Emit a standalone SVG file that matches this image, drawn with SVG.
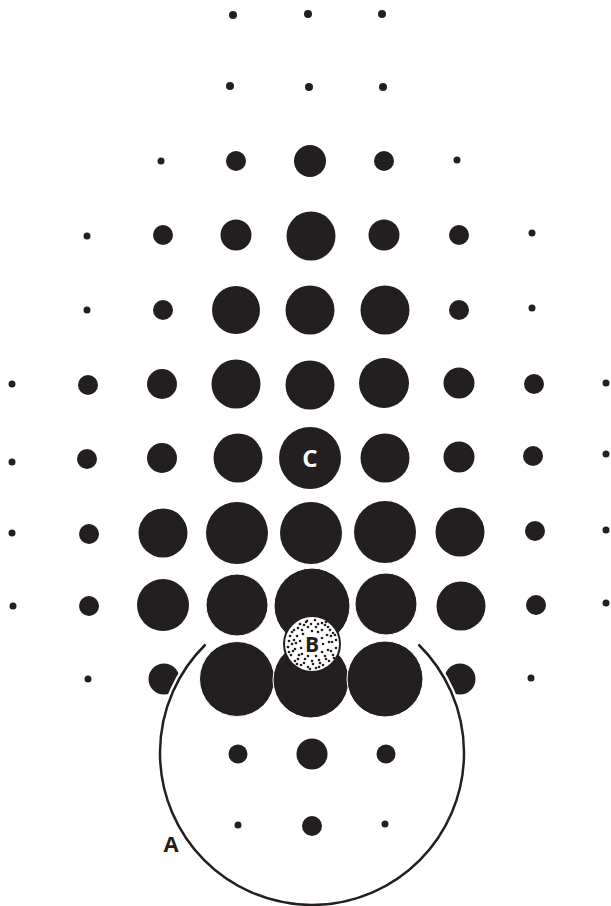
<svg xmlns="http://www.w3.org/2000/svg" width="611" height="906" viewBox="0 0 611 906">
<style>
.d{fill:#231f20}
.big{fill:#231f20;stroke:#fff;stroke-width:1}
.lbl{font-family:"Open Sans","Liberation Sans",sans-serif;font-weight:700;text-anchor:middle}
.s{fill:#231f20}
</style>
<rect width="611" height="906" fill="#fff"/>
<g id="row1">
<circle class="d" cx="233" cy="15" r="4"/><circle class="d" cx="308" cy="14" r="4"/><circle class="d" cx="382" cy="14" r="4"/>
</g>
<g id="row2">
<circle class="d" cx="230" cy="86" r="4"/><circle class="d" cx="309" cy="87" r="4"/><circle class="d" cx="383" cy="87" r="4"/>
</g>
<g id="row3">
<circle class="d" cx="161" cy="161" r="3.5"/><circle class="d" cx="236" cy="161" r="10"/><circle class="d" cx="310" cy="161" r="16"/><circle class="d" cx="384" cy="161" r="10"/><circle class="d" cx="457" cy="160" r="3.5"/>
</g>
<g id="row4">
<circle class="d" cx="87" cy="236" r="3.5"/><circle class="d" cx="163" cy="235" r="10"/><circle class="d" cx="236" cy="235" r="15.5"/><circle class="d" cx="311" cy="236" r="24.5"/><circle class="d" cx="384" cy="235" r="15.5"/><circle class="d" cx="459" cy="235" r="10"/><circle class="d" cx="532" cy="233" r="3.5"/>
</g>
<g id="row5">
<circle class="d" cx="87" cy="310" r="3.5"/><circle class="d" cx="163" cy="310" r="10"/><circle class="d" cx="236" cy="310" r="24"/><circle class="d" cx="310" cy="310" r="24.5"/><circle class="d" cx="385" cy="310" r="24.5"/><circle class="d" cx="459" cy="310" r="10"/><circle class="d" cx="532" cy="308" r="3.5"/>
</g>
<g id="row6">
<circle class="d" cx="12" cy="384" r="3.5"/><circle class="d" cx="88" cy="385" r="10"/><circle class="d" cx="162" cy="384" r="15"/><circle class="d" cx="236" cy="384" r="24.5"/><circle class="d" cx="310" cy="385" r="24.5"/><circle class="d" cx="384" cy="383" r="25"/><circle class="d" cx="459" cy="383" r="15.5"/><circle class="d" cx="534" cy="384" r="10"/><circle class="d" cx="606" cy="383" r="3.5"/>
</g>
<g id="row7">
<circle class="d" cx="12" cy="462" r="3.5"/><circle class="d" cx="87" cy="459" r="10"/><circle class="d" cx="162" cy="458" r="15"/><circle class="d" cx="238" cy="458" r="24.5"/><circle class="d" cx="385" cy="458" r="24.5"/><circle class="d" cx="459" cy="457" r="15.5"/><circle class="d" cx="533" cy="456" r="10"/><circle class="d" cx="606" cy="454" r="3.5"/>
</g>
<g id="node-C">
<circle class="d" cx="310" cy="458" r="31"/>
<text class="lbl" x="310" y="467" font-size="24" fill="#fff">C</text>
</g>
<g id="row8">
<circle class="d" cx="12" cy="533" r="3.5"/><circle class="d" cx="89" cy="534" r="10"/><circle class="d" cx="163" cy="533" r="24.5"/><circle class="d" cx="237" cy="533" r="31"/><circle class="d" cx="311" cy="533" r="31"/><circle class="d" cx="385" cy="532" r="31"/><circle class="d" cx="460" cy="532" r="24.5"/><circle class="d" cx="535" cy="531" r="10"/><circle class="d" cx="606" cy="530" r="3.5"/>
</g>
<g id="row9">
<circle class="d" cx="13" cy="606" r="3.5"/><circle class="d" cx="89" cy="606" r="10"/><circle class="d" cx="163" cy="605" r="26"/><circle class="big" cx="237" cy="605" r="31"/><circle class="big" cx="312" cy="606" r="38"/><circle class="big" cx="386" cy="604" r="31"/><circle class="d" cx="461" cy="606" r="24.5"/><circle class="d" cx="536" cy="605" r="10"/><circle class="d" cx="606" cy="603" r="3.5"/>
</g>
<g id="row10">
<circle class="d" cx="88" cy="679" r="3.5"/><circle class="d" cx="164" cy="679" r="15.5"/><circle class="big" cx="237" cy="679" r="37.5"/><circle class="big" cx="311" cy="680" r="38"/><circle class="big" cx="385" cy="679" r="38"/><circle class="d" cx="460" cy="679" r="15.5"/><circle class="d" cx="531" cy="678" r="3.5"/>
</g>
<g id="node-B">
<circle cx="312" cy="644" r="28" fill="#fff" stroke="#231f20" stroke-width="2"/>
<g class="s" transform="translate(312 644)">
<circle cx="-22" cy="-8" r="1.3"/><circle cx="-18" cy="-14" r="1.3"/><circle cx="-12" cy="-20" r="1.3"/><circle cx="-5" cy="-23" r="1.3"/><circle cx="3" cy="-24" r="1.3"/><circle cx="10" cy="-21" r="1.3"/><circle cx="16" cy="-17" r="1.3"/><circle cx="21" cy="-11" r="1.3"/><circle cx="24" cy="-4" r="1.3"/><circle cx="24" cy="4" r="1.3"/><circle cx="21" cy="11" r="1.3"/><circle cx="17" cy="17" r="1.3"/><circle cx="11" cy="21" r="1.3"/><circle cx="4" cy="24" r="1.3"/><circle cx="-4" cy="23" r="1.3"/><circle cx="-11" cy="21" r="1.3"/><circle cx="-17" cy="17" r="1.3"/><circle cx="-21" cy="11" r="1.3"/><circle cx="-24" cy="3" r="1.3"/><circle cx="-23" cy="-3" r="1.3"/>
<circle cx="-15" cy="-8" r="1.3"/><circle cx="-10" cy="-14" r="1.3"/><circle cx="-4" cy="-17" r="1.3"/><circle cx="4" cy="-17" r="1.3"/><circle cx="10" cy="-14" r="1.3"/><circle cx="15" cy="-9" r="1.3"/><circle cx="17" cy="-2" r="1.3"/><circle cx="16" cy="6" r="1.3"/><circle cx="13" cy="12" r="1.3"/><circle cx="7" cy="16" r="1.3"/><circle cx="0" cy="17" r="1.3"/><circle cx="-7" cy="15" r="1.3"/><circle cx="-13" cy="11" r="1.3"/><circle cx="-17" cy="5" r="1.3"/><circle cx="-16" cy="-1" r="1.3"/>
<circle cx="-20" cy="0" r="1.3"/><circle cx="-19" cy="7" r="1.3"/><circle cx="-14" cy="15" r="1.3"/><circle cx="-8" cy="19" r="1.3"/><circle cx="1" cy="20" r="1.3"/><circle cx="8" cy="19" r="1.3"/><circle cx="14" cy="15" r="1.3"/><circle cx="19" cy="7" r="1.3"/><circle cx="20" cy="-2" r="1.3"/><circle cx="19" cy="-8" r="1.3"/><circle cx="13" cy="-19" r="1.3"/><circle cx="6" cy="-20" r="1.3"/><circle cx="-1" cy="-20" r="1.3"/><circle cx="-8" cy="-19" r="1.3"/><circle cx="-14" cy="-16" r="1.3"/><circle cx="-18" cy="-4" r="1.3"/>
<circle cx="-12" cy="-3" r="1.3"/><circle cx="-11" cy="4" r="1.3"/><circle cx="-10" cy="10" r="1.3"/><circle cx="-4" cy="12" r="1.3"/><circle cx="4" cy="12" r="1.3"/><circle cx="10" cy="8" r="1.3"/><circle cx="11" cy="0" r="1.3"/><circle cx="10" cy="-6" r="1.3"/><circle cx="-9" cy="-10" r="1.3"/><circle cx="0" cy="-13" r="1.3"/><circle cx="6" cy="-12" r="1.3"/>
<circle cx="-23" cy="8" r="1.3"/><circle cx="23" cy="-9" r="1.3"/><circle cx="-6" cy="-22" r="1.3"/><circle cx="7" cy="23" r="1.3"/><circle cx="-15" cy="20" r="1.3"/><circle cx="18" cy="-14" r="1.3"/><circle cx="-2" cy="25" r="1.3"/><circle cx="22" cy="14" r="1.3"/><circle cx="-20" cy="-12" r="1.3"/><circle cx="14" cy="-22" r="1.3"/>
</g>
<text class="lbl" x="312" y="652" font-size="21" fill="#231f20">B</text>
</g>
<g id="row11">
<circle class="d" cx="238" cy="754" r="9.5"/><circle class="d" cx="312" cy="754" r="15.5"/><circle class="d" cx="386" cy="754" r="9.5"/>
</g>
<g id="row12">
<circle class="d" cx="238" cy="825" r="3.5"/><circle class="d" cx="312" cy="826" r="10"/><circle class="d" cx="385" cy="824" r="3.5"/>
</g>
<g id="node-A">
<path d="M 205.5 644.5 A 152 152 0 1 0 418.5 644.5" fill="none" stroke="#fff" stroke-width="7"/>
<path d="M 205.5 644.5 A 152 152 0 1 0 418.5 644.5" fill="none" stroke="#231f20" stroke-width="2.5"/>
<text class="lbl" x="171" y="852" font-size="22" fill="#231f20">A</text>
</g>
</svg>
